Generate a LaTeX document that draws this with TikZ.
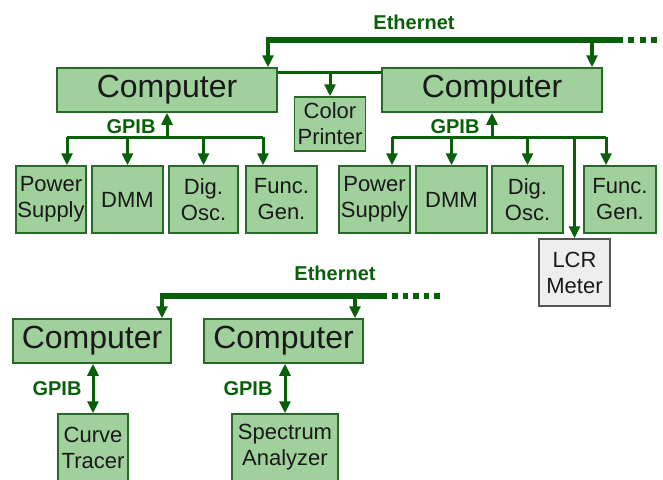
\documentclass[tikz,border=0pt]{standalone}
\usepackage{fontspec}
\setmainfont{Liberation Sans}
\usetikzlibrary{arrows.meta}
\definecolor{boxgreen}{RGB}{160,208,155}
\definecolor{edgegreen}{RGB}{40,105,40}
\definecolor{linegreen}{RGB}{10,95,10}
\definecolor{lcrgray}{RGB}{238,238,238}
\definecolor{lcredge}{RGB}{85,85,85}
\definecolor{txtgray}{RGB}{25,25,25}

\begin{document}
\begin{tikzpicture}[x=1pt,y=-1pt]
\useasboundingbox (0,0) rectangle (663,479);
\tikzstyle{pcbox}=[draw=edgegreen, fill=boxgreen, line width=1.5, inner sep=0, minimum width=220, minimum height=44, font=\fontsize{32}{34}\selectfont, text=txtgray]
\tikzstyle{instr}=[draw=edgegreen, fill=boxgreen, line width=1.5, inner sep=0, minimum width=71, minimum height=67, align=center, font=\fontsize{22}{26}\selectfont, text=txtgray]
\tikzstyle{lcrbox}=[instr, draw=lcredge, fill=lcrgray]
\tikzstyle{lbl}=[text=linegreen, font=\fontsize{20}{22}\selectfont\bfseries]
\tikzstyle{bus}=[draw=linegreen, line width=3]
\tikzstyle{arr}=[bus, -{Triangle[width=11pt,length=12pt]}]
\tikzstyle{dbl}=[bus, {Triangle[width=11pt,length=12pt]}-{Triangle[width=11pt,length=12pt]}]
\tikzstyle{drop}=[arr, line width=3.5]
\tikzstyle{ether}=[draw=linegreen, line width=6.5]

% upper network
\draw (167,90) node[pcbox] (pc1) {Computer};
\draw (492,90) node[pcbox] (pc2) {Computer};
\draw (330,124) node[instr, minimum height=54] (prn) {Color\\Printer};

\draw (51,199.5) node[instr, minimum width=70] (ps1) {Power\\Supply};
\draw (127.5,199.5) node[instr] (dmm1) {DMM};
\draw (203.5,199.5) node[instr, minimum width=69] (osc1) {Dig.\\Osc.};
\draw (281.5,199.5) node[instr] (fg1) {Func.\\Gen.};

\draw (374.5,199.5) node[instr] (ps2) {Power\\Supply};
\draw (451.5,199.5) node[instr] (dmm2) {DMM};
\draw (527.5,199.5) node[instr] (osc2) {Dig.\\Osc.};
\draw (620,199.5) node[instr, minimum width=72] (fg2) {Func.\\Gen.};
\draw (574.5,272.5) node[lcrbox] (lcr) {LCR\\Meter};

\draw (414,22) node[lbl] (eth1) {Ethernet};
\draw (131,127) node[lbl] (gpib1) {GPIB};
\draw (455,127) node[lbl] (gpib2) {GPIB};

\coordinate (e1w) at (268,40);
\coordinate (e1r) at (592,40);
\coordinate (e1e) at (623,40);
\coordinate (e1d) at (657,40);
\draw[ether] ([xshift=-1.75]e1w) -- (e1e);
\draw[ether, dash pattern=on 6 off 5.5] ([xshift=5]e1e) -- (e1d);
\draw[drop] (e1w) -- (e1w |- pc1.north);
\draw[drop] (e1r) -- (e1r |- pc2.north);

\coordinate (lnk) at (330,72);
\draw[bus] (lnk -| pc1.east) -- (lnk -| pc2.west);
\draw[arr] (lnk) -- (prn.north);

\coordinate (g1w) at (67,137);
\coordinate (g1e) at (263,137);
\draw[bus] (g1w) -- (g1e);
\draw[arr] (g1w -| pc1) -- (pc1.south);
\draw[arr] (g1w) -- (g1w |- ps1.north);
\draw[arr] (g1w -| dmm1) -- (dmm1.north);
\draw[arr] (g1w -| osc1) -- (osc1.north);
\draw[arr] (g1e) -- (g1e |- fg1.north);

\coordinate (g2w) at (392,137);
\coordinate (g2e) at (606,137);
\draw[bus] (g2w) -- (g2e);
\draw[arr] (g2w -| pc2) -- (pc2.south);
\draw[arr] (g2w) -- (g2w |- ps2.north);
\draw[arr] (g2w -| dmm2) -- (dmm2.north);
\draw[arr] (g2w -| osc2) -- (osc2.north);
\draw[arr] (g2w -| lcr) -- (lcr.north);
\draw[arr] (g2e) -- (g2e |- fg2.north);

% lower network
\draw (92,341) node[pcbox, minimum width=158] (pc3) {Computer};
\draw (283.5,341) node[pcbox, minimum width=159] (pc4) {Computer};
\draw (93,447.5) node[instr, minimum width=70] (ct) {Curve\\Tracer};
\draw (285,447.5) node[instr, minimum width=106] (sa) {Spectrum\\Analyzer};

\draw (335,273) node[lbl] (eth2) {Ethernet};
\draw (57,389) node[lbl] (gpib3) {GPIB};
\draw (248,389) node[lbl] (gpib4) {GPIB};

\coordinate (e2w) at (162,296);
\coordinate (e2r) at (355,296);
\coordinate (e2e) at (387,296);
\coordinate (e2d) at (440,296);
\draw[ether, line width=6] ([xshift=-1.75]e2w) -- (e2e);
\draw[ether, line width=6, dash pattern=on 5.5 off 5] ([xshift=5]e2e) -- (e2d);
\draw[drop] (e2w) -- (e2w |- pc3.north);
\draw[drop] (e2r) -- (e2r |- pc4.north);

\draw[dbl] (ct.north |- pc3.south) -- (ct.north);
\draw[dbl] (sa.north |- pc4.south) -- (sa.north);
\end{tikzpicture}
\end{document}
